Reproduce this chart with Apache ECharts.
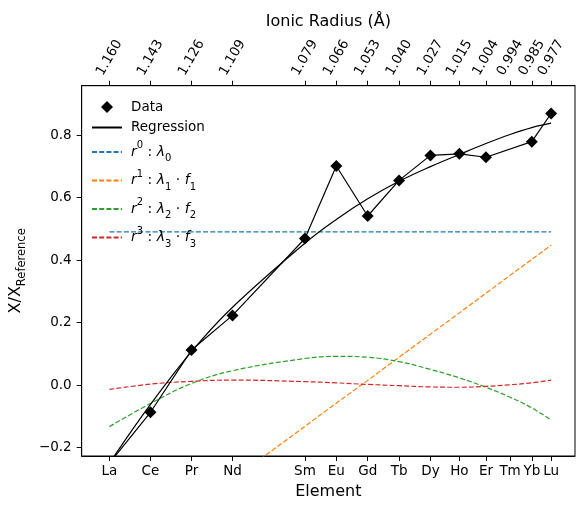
<!DOCTYPE html>
<html><head><meta charset="utf-8">
<script src="https://cdn.jsdelivr.net/npm/echarts@6/dist/echarts.min.js"></script>
<style>html,body{margin:0;padding:0;background:#fff}#c{width:584px;height:513px}</style>
</head><body><div id="c"></div>
<script>
const elements = ['La','Ce','Pr','Nd','Sm','Eu','Gd','Tb','Dy','Ho','Er','Tm','Yb','Lu'];
const radii = [1.160,1.143,1.126,1.109,1.079,1.066,1.053,1.040,1.027,1.015,1.004,0.994,0.985,0.977];
const radiusLabels = ['1.160','1.143','1.126','1.109','1.079','1.066','1.053','1.040','1.027','1.015','1.004','0.994','0.985','0.977'];
const yTicks = [-0.2,0.0,0.2,0.4,0.6,0.8];
const dataValues = [-0.25,-0.087,0.112,0.223,0.469,0.701,0.541,0.655,0.735,0.740,0.729,null,0.779,0.869];
const regression = [-0.250,-0.062,0.107,0.249,0.454,0.530,0.596,0.652,0.699,0.738,0.773,0.802,0.824,0.838];
const comp0 = [0.49,0.49,0.49,0.49,0.49,0.49,0.49,0.49,0.49,0.49,0.49,0.49,0.49,0.49];
const comp1 = [-0.593,-0.496,-0.400,-0.303,-0.132,-0.058,0.015,0.089,0.163,0.231,0.294,0.351,0.402,0.448];
const comp2 = [-0.133,-0.059,0.005,0.046,0.085,0.092,0.089,0.075,0.050,0.023,-0.007,-0.039,-0.073,-0.112];
const comp3 = [-0.014,0.003,0.012,0.016,0.011,0.007,0.002,-0.002,-0.006,-0.007,-0.004,0.001,0.007,0.016];

const FONT = 'DejaVu Sans';
function pairs(vals){ const out=[]; vals.forEach((v,i)=>{ if(v!==null) out.push([radii[i], v]); }); return out; }
function nearest(v){ let b=0; radii.forEach((r,i)=>{ if(Math.abs(r-v)<Math.abs(radii[b]-v)) b=i; }); return b; }

const legendLabels = {
  'Data':'Data',
  'Regression':'Regression',
  'r0':'{i|r}{sup|0}{n| : }{i|λ}{sub|0}',
  'r1':'{i|r}{sup|1}{n| : }{i|λ}{sub|1}{n| ⋅ }{i|f}{sub|1}',
  'r2':'{i|r}{sup|2}{n| : }{i|λ}{sub|2}{n| ⋅ }{i|f}{sub|2}',
  'r3':'{i|r}{sup|3}{n| : }{i|λ}{sub|3}{n| ⋅ }{i|f}{sub|3}'
};
const colors = ['#1f77b4','#ff7f0e','#2ca02c','#d62728'];
const dash = [5,2.2];

const chart = echarts.init(document.getElementById('c'), null, {renderer:'canvas'});
const axisCommon = {
  type:'value', min:0.9671, max:1.1715, inverse:true,
  splitLine:{show:false},
  axisLine:{show:true, onZero:false, lineStyle:{color:'#000', width:1}},
  axisTick:{show:true, customValues: radii, length:5, lineStyle:{color:'#000', width:1}},
};
chart.setOption({
  animation:false,
  textStyle:{fontFamily:FONT},
  grid:{left:79.5, right:9, top:85.7, bottom:57, show:true, borderColor:'#000', borderWidth:1, backgroundColor:'transparent'},
  xAxis:[
    Object.assign({}, axisCommon, {
      position:'bottom',
      axisLabel:{customValues: radii, formatter: v=>elements[nearest(v)], color:'#000', fontSize:13.5, fontFamily:FONT, margin:8},
      name:'Element', nameLocation:'middle', nameGap:28,
      nameTextStyle:{fontSize:16, color:'#000', fontFamily:FONT}
    }),
    Object.assign({}, axisCommon, {
      position:'top',
      axisLabel:{customValues: radii, formatter: v=>radiusLabels[nearest(v)], rotate:-60, align:'center', verticalAlign:'middle',
        color:'#000', fontSize:13.5, fontFamily:FONT, margin:28},
      name:'Ionic Radius (Å)', nameLocation:'middle', nameGap:53,
      nameTextStyle:{fontSize:16, color:'#000', fontFamily:FONT}
    })
  ],
  yAxis:{
    type:'value', min:-0.227, max:0.958,
    splitLine:{show:false},
    axisLine:{show:true, lineStyle:{color:'#000'}},
    axisTick:{show:true, customValues:yTicks, length:5, lineStyle:{color:'#000'}},
    axisLabel:{customValues:yTicks, formatter: v=>v.toFixed(1).replace('-','\u2212'), color:'#000', fontSize:13.5, fontFamily:FONT, margin:10},
    name:'{a|X/X}{s|Reference}', nameLocation:'middle', nameGap:45, nameRotate:90,
    nameTextStyle:{color:'#000', fontFamily:FONT, rich:{
      a:{fontSize:16, color:'#000', fontFamily:FONT, lineHeight:24},
      s:{fontSize:11.5, color:'#000', fontFamily:FONT, lineHeight:13, verticalAlign:'bottom'}
    }}
  },
  legend:{
    orient:'vertical', left:91, top:99.5, padding:0, itemGap:5.5, itemWidth:30, itemHeight:12,
    selectedMode:false, symbolKeepAspect:true,
    data:[
      {name:'Data', icon:'path://M0,-6L6,0L0,6L-6,0Z'},
      {name:'Regression', itemStyle:{opacity:0}},
      {name:'r0', itemStyle:{opacity:0}},
      {name:'r1', itemStyle:{opacity:0}},
      {name:'r2', itemStyle:{opacity:0}},
      {name:'r3', itemStyle:{opacity:0}}
    ],
    formatter: n=>legendLabels[n],
    textStyle:{fontSize:13.5, color:'#000', fontFamily:FONT, lineHeight:15, padding:[0,0,0,4],
      rich:{
        i:{fontSize:14, fontStyle:'italic', fontFamily:FONT, color:'#000', lineHeight:23},
        n:{fontSize:14, fontFamily:FONT, color:'#000', lineHeight:23},
        sup:{fontSize:10, fontFamily:FONT, color:'#000', lineHeight:14, verticalAlign:'top'},
        sub:{fontSize:10, fontFamily:FONT, color:'#000', lineHeight:14, verticalAlign:'bottom'}
      }}
  },
  series:[
    {name:'Data', type:'line', data:pairs(dataValues), symbol:'diamond', symbolSize:12, connectNulls:true,
      lineStyle:{color:'#000', width:1.2}, itemStyle:{color:'#000'}, clip:true, z:5},
    {name:'Regression', type:'line', data:pairs(regression), symbol:'none', smooth:0.4,
      lineStyle:{color:'#000', width:1.2}, itemStyle:{color:'#000'}, clip:true, z:4},
    {name:'r0', type:'line', data:pairs(comp0), symbol:'none', lineStyle:{color:colors[0], width:1.2, type:dash}, itemStyle:{color:colors[0]}, clip:true},
    {name:'r1', type:'line', data:pairs(comp1), symbol:'none', lineStyle:{color:colors[1], width:1.2, type:dash}, itemStyle:{color:colors[1]}, clip:true},
    {name:'r2', type:'line', data:pairs(comp2), symbol:'none', smooth:0.4, lineStyle:{color:colors[2], width:1.2, type:dash}, itemStyle:{color:colors[2]}, clip:true},
    {name:'r3', type:'line', data:pairs(comp3), symbol:'none', smooth:0.4, lineStyle:{color:colors[3], width:1.2, type:dash}, itemStyle:{color:colors[3]}, clip:true}
  ]
});
</script></body></html>
